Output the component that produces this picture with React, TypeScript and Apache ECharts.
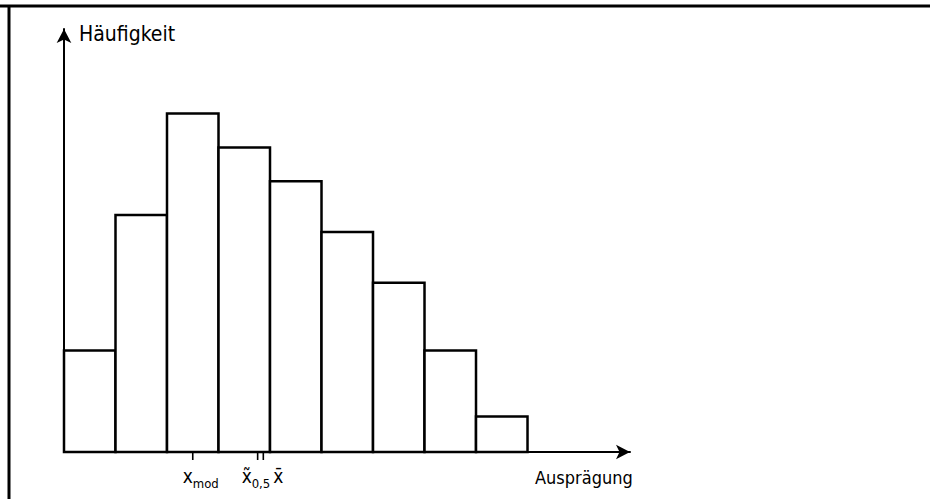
import React, { useEffect, useRef } from "react";
import * as echarts from "echarts";

// Histogram class heights (frequency units)
const classIndex = [0, 1, 2, 3, 4, 5, 6, 7, 8];
const frequencies = [3, 7, 10, 9, 8, 6.5, 5, 3, 1.05];

// Positions (in class units along x) of the location measures
const measurePositions = [2.5, 3.76, 3.87];
const measureTicks = [true, true, true];
const measureLabels = ["x_mod", "x̃_0,5", "x̄"];

const yAxisTitle = "Häufigkeit";
const xAxisTitle = "Ausprägung";

const FAMILY = "'DejaVu Sans Condensed', 'DejaVu Sans', sans-serif";

export default function App() {
  const ref = useRef<HTMLDivElement>(null);
  useEffect(() => {
    if (!ref.current) return;
    const chart = echarts.init(ref.current, undefined, { renderer: "svg" });

    const barData = classIndex.map((c, i) => [c, frequencies[i]]);
    const tickData = measurePositions.map((p, i) => [p, measureTicks[i] ? 1 : 0]);

    chart.setOption({
      animation: false,
      backgroundColor: "#ffffff",
      grid: { left: 64, top: 29, width: 566, height: 423 },
      xAxis: {
        type: "value",
        min: 0,
        max: 10.99,
        axisLine: {
          show: true,
          symbol: ["none", "arrow"],
          symbolSize: [11, 14],
          lineStyle: { color: "#000", width: 2 },
        },
        axisTick: { show: false },
        axisLabel: { show: false },
        splitLine: { show: false },
      },
      yAxis: {
        type: "value",
        min: 0,
        max: 12.5,
        axisLine: {
          show: true,
          symbol: ["none", "arrow"],
          symbolSize: [11, 14],
          lineStyle: { color: "#000", width: 2 },
        },
        axisTick: { show: false },
        axisLabel: { show: false },
        splitLine: { show: false },
      },
      series: [
        {
          type: "custom",
          data: barData,
          renderItem: (params: any, api: any) => {
            const x = api.value(0);
            const v = api.value(1);
            const p0 = api.coord([x, 0]);
            const p1 = api.coord([x + 1, v]);
            return {
              type: "rect",
              shape: { x: p0[0], y: p1[1], width: p1[0] - p0[0], height: p0[1] - p1[1] },
              style: { fill: "#ffffff", stroke: "#000000", lineWidth: 2.5 },
            };
          },
          z: 1,
        },
        {
          type: "custom",
          data: tickData,
          renderItem: (params: any, api: any) => {
            const x = api.value(0);
            const p = api.coord([x, 0]);
            const idx = params.dataIndex;
            const children: any[] = [];
            if (api.value(1)) {
              children.push({
                type: "line",
                shape: { x1: p[0], y1: p[1], x2: p[0], y2: p[1] + 8 },
                style: { stroke: "#000", lineWidth: 1.6 },
              });
            }
            const label = measureLabels[idx];
            const parts = label.split("_");
            const main = parts[0];
            const sub = parts[1];
            let textX = p[0];
            if (idx === 0) textX = p[0] - 10;
            if (idx === 1) textX = p[0] - 16;
            if (idx === 2) textX = p[0] + 10;
            children.push({
              type: "text",
              x: textX,
              y: p[1] + 14,
              style: {
                text: main,
                fontSize: 19,
                fontFamily: FAMILY,
                fill: "#000",
                align: "left",
                verticalAlign: "top",
              },
            });
            if (sub) {
              children.push({
                type: "text",
                x: textX + 10,
                y: p[1] + 25,
                style: {
                  text: sub,
                  fontSize: 13,
                  fontFamily: FAMILY,
                  fill: "#000",
                  align: "left",
                  verticalAlign: "top",
                },
              });
            }
            return { type: "group", children };
          },
          z: 2,
        },
      ],
      graphic: [
        {
          type: "text",
          left: 79,
          top: 23,
          style: {
            text: yAxisTitle,
            fontSize: 21,
            fontFamily: FAMILY,
            fill: "#000",
          },
        },
        {
          type: "text",
          left: 535,
          top: 468,
          style: {
            text: xAxisTitle,
            fontSize: 18,
            fontFamily: FAMILY,
            fill: "#000",
          },
        },
        {
          type: "line",
          shape: { x1: 0, y1: 6, x2: 930, y2: 6 },
          style: { stroke: "#000", lineWidth: 3 },
        },
        {
          type: "line",
          shape: { x1: 9, y1: 5, x2: 9, y2: 499 },
          style: { stroke: "#000", lineWidth: 3 },
        },
      ],
    });
    return () => chart.dispose();
  }, []);
  return (
    <div
      ref={ref}
      style={{ position: "fixed", left: 0, top: 0, width: 930, height: 499 }}
    />
  );
}
